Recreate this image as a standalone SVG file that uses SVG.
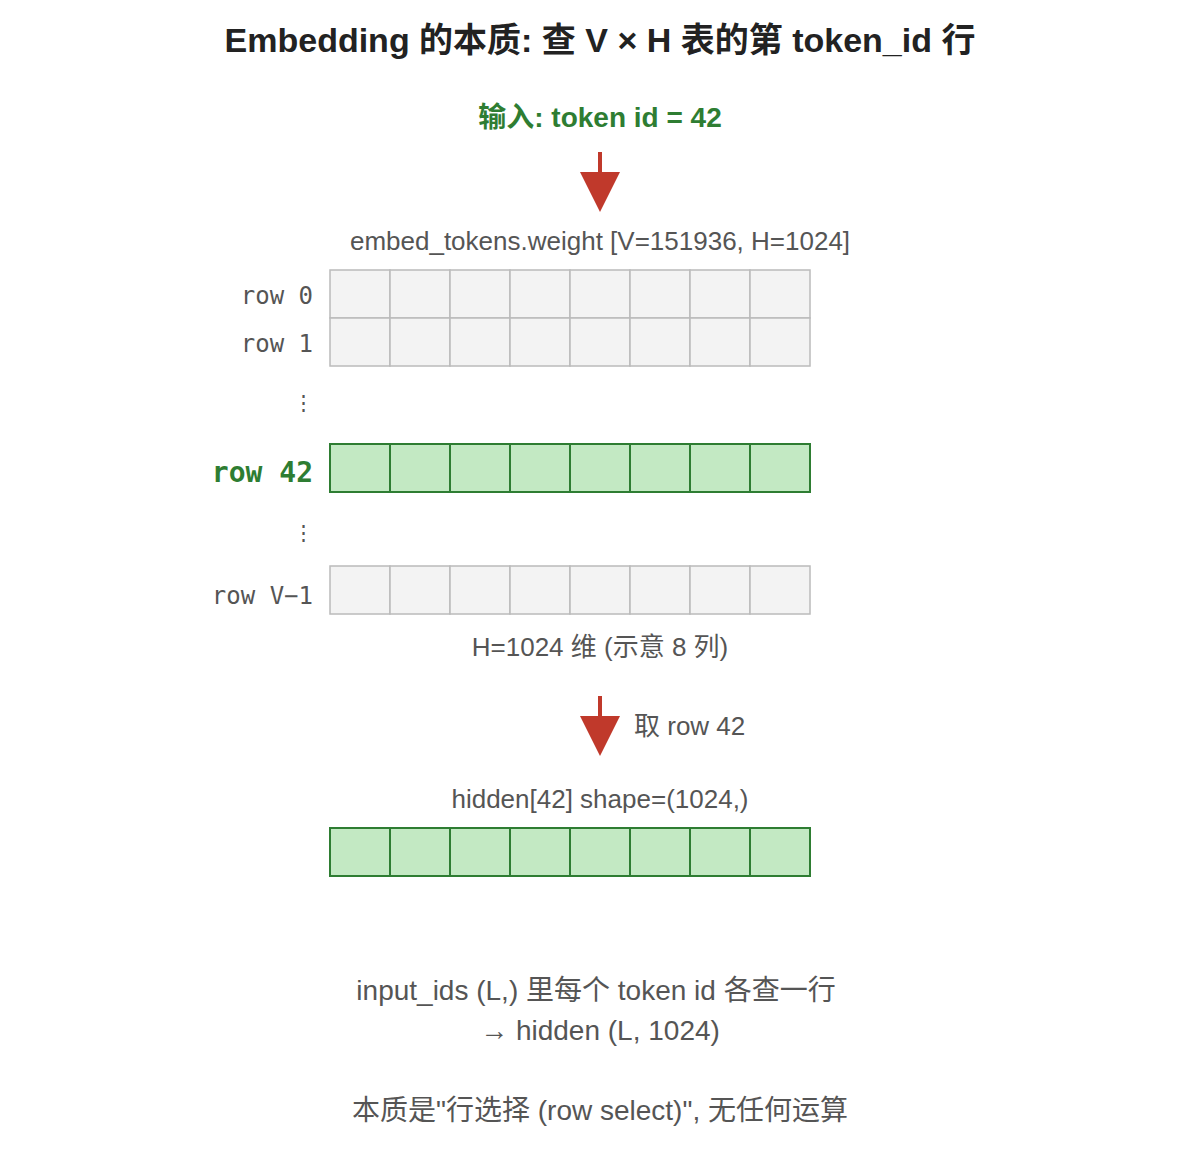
<svg xmlns="http://www.w3.org/2000/svg" width="1200" height="1160" viewBox="0 0 1200 1160">
<style>
.t{font-family:"Liberation Sans","Noto Sans CJK SC",sans-serif;fill:#555;text-anchor:middle}
.title{font-family:"Liberation Sans","Noto Sans CJK SC",sans-serif;font-weight:bold;font-size:34px;fill:#222;text-anchor:middle}
.m{font-family:"DejaVu Sans Mono","Liberation Mono",monospace;font-size:24px;fill:#555;text-anchor:end}
.g{fill:#f3f3f3;stroke:#bbb;stroke-width:1.5}
.s{fill:#c3e9c3;stroke:#2e7d32;stroke-width:2}
.arr{fill:#c0392b}
</style>
<defs>
<g id="grayrow">
<rect class="g" x="0" y="0" width="60" height="48"/><rect class="g" x="60" y="0" width="60" height="48"/><rect class="g" x="120" y="0" width="60" height="48"/><rect class="g" x="180" y="0" width="60" height="48"/><rect class="g" x="240" y="0" width="60" height="48"/><rect class="g" x="300" y="0" width="60" height="48"/><rect class="g" x="360" y="0" width="60" height="48"/><rect class="g" x="420" y="0" width="60" height="48"/>
</g>
<g id="greenrow">
<rect class="s" x="0" y="0" width="60" height="48"/><rect class="s" x="60" y="0" width="60" height="48"/><rect class="s" x="120" y="0" width="60" height="48"/><rect class="s" x="180" y="0" width="60" height="48"/><rect class="s" x="240" y="0" width="60" height="48"/><rect class="s" x="300" y="0" width="60" height="48"/><rect class="s" x="360" y="0" width="60" height="48"/><rect class="s" x="420" y="0" width="60" height="48"/>
</g>
</defs>
<rect width="1200" height="1160" fill="#fff"/>
<g id="title"><text class="title" x="600" y="52">Embedding 的本质: 查 V × H 表的第 token_id 行</text></g>
<g id="input"><text class="t" x="600" y="127" style="font-size:28px;font-weight:bold;fill:#2e7d32">输入: token id = 42</text></g>
<g id="connectors">
<rect class="arr" x="598" y="152" width="4" height="22"/>
<polygon class="arr" points="580,172 620,172 600,212"/>
<rect class="arr" x="598" y="696" width="4" height="22"/>
<polygon class="arr" points="580,716 620,716 600,756"/>
</g>
<g id="table">
<text class="t" x="600" y="250" style="font-size:26px">embed_tokens.weight [V=151936, H=1024]</text>
<g id="row0"><use href="#grayrow" x="330" y="270"/><text class="m" x="313" y="304">row 0</text></g>
<g id="row1"><use href="#grayrow" x="330" y="318"/><text class="m" x="313" y="352">row 1</text></g>
<text class="m" x="314" y="410" style="font-size:21px">⋮</text>
<g id="row42"><use href="#greenrow" x="330" y="444"/><text class="m" x="313" y="482" style="font-size:28px;font-weight:bold;fill:#2e7d32">row 42</text></g>
<text class="m" x="314" y="540" style="font-size:21px">⋮</text>
<g id="rowV1"><use href="#grayrow" x="330" y="566"/><text class="m" x="313" y="604">row V−1</text></g>
<text class="t" x="600" y="656" style="font-size:26px">H=1024 维 (示意 8 列)</text>
</g>
<g id="take"><text class="t" x="634" y="735" style="font-size:26px;text-anchor:start">取 row 42</text></g>
<g id="hidden">
<text class="t" x="600" y="808" style="font-size:26px">hidden[42] shape=(1024,)</text>
<use href="#greenrow" x="330" y="828"/>
</g>
<g id="notes">
<text class="t" x="596" y="1000" style="font-size:28px">input_ids (L,) 里每个 token id 各查一行</text>
<text class="t" x="600" y="1040" style="font-size:28px">→ hidden (L, 1024)</text>
<text class="t" x="600" y="1120" style="font-size:28px">本质是"行选择 (row select)", 无任何运算</text>
</g>
</svg>
